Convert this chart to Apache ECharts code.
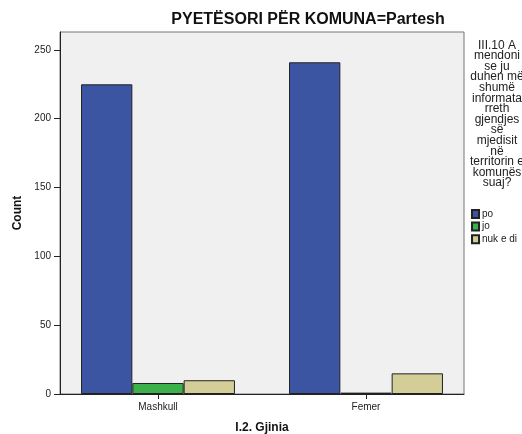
<!DOCTYPE html>
<html>
<head>
<meta charset="utf-8">
<script src="https://cdn.jsdelivr.net/npm/echarts@6/dist/echarts.min.js"></script>
<style>
html,body{margin:0;padding:0;background:#fff;}
#c{width:522px;height:434px;}
</style>
</head>
<body>
<div id="c"></div>
<script>
const categories = ['Mashkull', 'Femer'];
const seriesNames = ['po', 'jo', 'nuk e di'];
const poValues = [225, 241];
const joValues = [8, 1];
const nukValues = [10, 15];
const yTicks = [0, 50, 100, 150, 200, 250];
const legendTitleLines = ['III.10 A', 'mendoni', 'se ju', 'duhen më', 'shumë', 'informata', 'rreth', 'gjendjes', 'së', 'mjedisit', 'në', 'territorin e', 'komunës', 'suaj?'];
const colors = ['#3b55a3', '#3cb04a', '#d3ce97'];

const FONT = '"Liberation Sans", Arial, sans-serif';
const yMax = 263;
const chart = echarts.init(document.getElementById('c'), null, {renderer: 'canvas'});
const valueSets = [poValues, joValues, nukValues];

chart.setOption({
  animation: false,
  backgroundColor: '#ffffff',
  textStyle: {fontFamily: FONT},
  title: {
    text: 'PYETËSORI PËR KOMUNA=Partesh',
    left: 308, top: 12, textAlign: 'center', padding: 0,
    textStyle: {fontFamily: FONT, fontSize: 16, fontWeight: 'bold', color: '#111'}
  },
  grid: [
    {left: 60, top: 32, width: 404, height: 362, show: true, backgroundColor: '#f0f0f0', borderColor: '#777', borderWidth: 1, outerBoundsMode: 'none', containLabel: false},
    {left: 54, top: 32, width: 416, height: 362, show: false, outerBoundsMode: 'none', containLabel: false}
  ],
  xAxis: [
    {gridIndex: 0, type: 'value', min: 0, max: 1, axisLine: {show: true, onZero: false, lineStyle: {color: '#222', width: 1}},
     axisTick: {show: false}, axisLabel: {show: false}, splitLine: {show: false},
     name: 'I.2. Gjinia', nameLocation: 'middle', nameGap: 28,
     nameTextStyle: {fontFamily: FONT, fontSize: 12, fontWeight: 'bold', color: '#111'}},
    {gridIndex: 1, type: 'category', data: categories, axisLine: {show: false},
     axisTick: {show: true, alignWithLabel: true, length: 5, lineStyle: {color: '#222'}},
     axisLabel: {fontFamily: FONT, fontSize: 10, color: '#222', margin: 8}}
  ],
  yAxis: [
    {gridIndex: 0, type: 'value', min: 0, max: yMax,
     axisLine: {show: true, onZero: false, lineStyle: {color: '#222', width: 1}},
     axisTick: {show: true, length: 6, customValues: yTicks, lineStyle: {color: '#222'}},
     axisLabel: {fontFamily: FONT, fontSize: 10, color: '#222', margin: 9, customValues: yTicks},
     splitLine: {show: false},
     name: 'Count', nameLocation: 'middle', nameGap: 36, nameRotate: 90,
     nameTextStyle: {fontFamily: FONT, fontSize: 12, fontWeight: 'bold', color: '#111'}},
    {gridIndex: 1, type: 'value', min: 0, max: yMax, show: false}
  ],
  legend: {
    orient: 'vertical', left: 471, top: 209, padding: 0, itemWidth: 7, itemHeight: 8, itemGap: 2.6,
    icon: 'rect', data: seriesNames,
    textStyle: {fontFamily: FONT, fontSize: 10, lineHeight: 10, color: '#222', padding: [0, 0, 0, -2]}
  },
  graphic: [{
    type: 'text',
    style: {text: legendTitleLines.join('\n'), x: 0, y: 0, align: 'center', textAlign: 'center',
      font: '12px ' + FONT, lineHeight: 10.6, fill: '#222'},
    x: 497, y: 40
  }],
  series: seriesNames.map((n, i) => ({
    name: n, type: 'bar', xAxisIndex: 1, yAxisIndex: 1,
    data: valueSets[i],
    barGap: '0%', barCategoryGap: '26%',
    itemStyle: {color: colors[i], borderColor: '#222', borderWidth: 1}
  }))
});
</script>
</body>
</html>
